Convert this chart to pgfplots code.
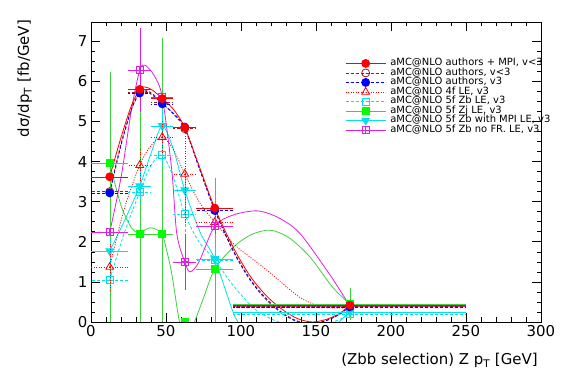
\documentclass[border=0pt]{standalone}
\usepackage{pgfplots}
\pgfplotsset{compat=1.18}
\usepackage{fontspec}
\setmainfont{DejaVu Sans}
\usetikzlibrary{plotmarks}
\definecolor{cR}{RGB}{255,0,0}
\definecolor{cDR}{RGB}{170,20,20}
\definecolor{cB}{RGB}{0,0,255}
\definecolor{cC}{RGB}{0,225,235}
\definecolor{cG}{RGB}{60,210,60}
\definecolor{cGf}{RGB}{0,255,0}
\definecolor{cM}{RGB}{225,30,225}
\pgfdeclareplotmark{boxplus}{%
  \pgfpathrectangle{\pgfpoint{-\pgfplotmarksize}{-\pgfplotmarksize}}{\pgfpoint{2\pgfplotmarksize}{2\pgfplotmarksize}}%
  \pgfpathmoveto{\pgfpoint{-\pgfplotmarksize}{0pt}}\pgfpathlineto{\pgfpoint{\pgfplotmarksize}{0pt}}%
  \pgfpathmoveto{\pgfpoint{0pt}{-\pgfplotmarksize}}\pgfpathlineto{\pgfpoint{0pt}{\pgfplotmarksize}}%
  \pgfusepathqstroke}
\pgfplotsset{
  errb/.style={error bars/x dir=both, error bars/x explicit, error bars/y dir=both, error bars/y explicit, error bars/error mark=none},
  sRed/.style={color=cR, solid, line width=0.8bp, mark=*, mark size=4bp, mark options={solid}},
  sDR/.style={color=cDR, dash pattern=on 3bp off 2bp, line width=0.8bp, mark=o, mark size=4bp, mark options={solid}},
  sBlue/.style={color=cB, dash pattern=on 3bp off 2bp, line width=0.8bp, mark=*, mark size=4bp, mark options={solid}},
  sTri/.style={color=cR, dash pattern=on 1bp off 1.5bp, line width=0.8bp, mark=triangle, mark size=4.5bp, mark options={solid}},
  sCSq/.style={color=cC, dash pattern=on 3bp off 2bp, line width=0.8bp, mark=square, mark size=3.5bp, mark options={solid}},
  sGreen/.style={color=cG, solid, line width=0.8bp, mark=square*, mark size=3.5bp, mark options={solid, draw=cGf, fill=cGf}},
  sCTri/.style={color=cC, solid, line width=0.8bp, mark=triangle*, mark size=4.5bp, mark options={solid, rotate=180}},
  sMag/.style={color=cM, solid, line width=0.8bp, mark=boxplus, mark size=3.5bp, mark options={solid}},
}
\begin{document}
\begin{tikzpicture}
\begin{axis}[
  scale only axis, width=450bp, height=300bp,
  xmin=0, xmax=300, ymin=0, ymax=7.48,
  xtick={0,50,...,300}, ytick={0,1,...,7},
  minor x tick num=4, minor y tick num=3,
  tick align=inside, tick pos=both,
  major tick length=9bp, minor tick length=4.5bp,
  tick style={black, line width=0.6bp},
  axis line style={line width=0.8bp},
  tick label style={font=\fontsize{15}{18}\selectfont},
  /pgf/number format/assume math mode=true,
  clip marker paths=true,
  xlabel={(Zbb selection) Z p\textsubscript{T} [GeV]},
  ylabel={dσ/dp\textsubscript{T} [fb/GeV]},
  label style={font=\fontsize{15}{18}\selectfont},
  xlabel style={at={(rel axis cs:0.993,-0.103)}, anchor=north east, inner sep=0pt},
  ylabel style={at={(rel axis cs:-0.147,1.007)}, anchor=east, inner sep=0pt},
  legend style={at={(rel axis cs:0.558,0.885)}, anchor=north west, draw=none, fill=none,
    font=\fontsize{10}{9.5}\selectfont,
    nodes={inner sep=0.25bp, text height=7bp, text depth=2bp},
    cells={anchor=west}, column sep=4bp, row sep=0pt},
  legend image code/.code={\draw[mark repeat=2,mark phase=2,#1] plot coordinates {(0bp,0bp)(20bp,0bp)(40bp,0bp)};},
]
\coordinate (O) at (rel axis cs:0,0);
\addlegendimage{sRed}\addlegendentry{aMC@NLO authors + MPI, v<3}
\addlegendimage{sDR}\addlegendentry{aMC@NLO authors, v<3}
\addlegendimage{sBlue}\addlegendentry{aMC@NLO authors, v3}
\addlegendimage{sTri}\addlegendentry{aMC@NLO 4f LE, v3}
\addlegendimage{sCSq}\addlegendentry{aMC@NLO 5f Zb LE, v3}
\addlegendimage{sGreen}\addlegendentry{aMC@NLO 5f Zj LE, v3}
\addlegendimage{sCTri}\addlegendentry{aMC@NLO 5f Zb with MPI LE, v3}
\addlegendimage{sMag}\addlegendentry{aMC@NLO 5f Zb no FR. LE, v3}

% ---- smooth curves ----
\addplot[sGreen, no marks, smooth, forget plot] coordinates {(12.5,3.96)(17,3.3)(21,2.8)(27,2.35)(32.5,2.19)(36,2.3)(40,2.35)(44,2.3)(47.5,2.19)(51,1.7)(54,1.17)(59,0.0)(62.5,-0.3)(66,-0.2)(69,0.0)(75,0.6)(82.5,1.32)(95,1.87)(107,2.18)(119.5,2.29)(132,2.1)(146,1.62)(161,0.87)(172.5,0.45)};
\addplot[sCSq, no marks, smooth, forget plot] coordinates {(12.5,1.05)(22,2.2)(32.5,3.24)(40,3.9)(47.5,4.16)(55,3.6)(62.5,2.69)(72,2.0)(82.5,1.55)(95,0.9)(110,0.3)(125,0.0)(140,-0.12)(155,-0.06)(165,0.05)(172.5,0.2)};
\addplot[sCTri, no marks, smooth, forget plot] coordinates {(12.5,1.77)(22,2.5)(32.5,3.39)(40,4.2)(47.5,4.89)(55,4.3)(62.5,3.29)(72.7,2.24)(82.5,1.57)(95,0.22)(101,-0.1)(115,-0.4)(135,-0.5)(155,-0.3)(172.5,0.25)};
\addplot[sTri, no marks, smooth, forget plot] coordinates {(12.5,1.37)(22,2.8)(32.5,3.91)(40,4.4)(47.5,4.61)(55,4.3)(62.5,3.69)(72,3.0)(82.5,2.49)(95,1.95)(106,1.62)(117,1.3)(128,0.95)(139,0.62)(150,0.42)(160,0.35)(172.5,0.36)};
\addplot[sMag, no marks, smooth, forget plot] coordinates {(12.5,2.24)(20,3.6)(27,5.3)(32.5,6.28)(36,6.4)(42,6.15)(47.5,5.61)(53.8,3.8)(57.2,2.2)(62.5,1.5)(66,1.25)(72,1.5)(82.5,2.39)(95,2.67)(111,2.77)(125,2.6)(139,2.22)(157,1.3)(165,0.85)(172.5,0.40)};
\addplot[sDR, no marks, smooth, forget plot] coordinates {(12.5,3.25)(20,4.45)(27,5.32)(32.5,5.74)(36,5.79)(41,5.69)(47.5,5.47)(55,5.18)(62.5,4.82)(72,3.86)(82.5,2.80)(95,1.78)(106,1.08)(117,0.58)(128,0.22)(138,0.02)(148,-0.04)(158,0.06)(166,0.2)(172.5,0.40)};
\addplot[sBlue, no marks, smooth, forget plot] coordinates {(12.5,3.22)(20,4.4)(27,5.3)(32.5,5.71)(36,5.76)(41,5.66)(47.5,5.44)(55,5.2)(62.5,4.86)(72,3.85)(82.5,2.78)(95,1.75)(106,1.05)(117,0.55)(128,0.2)(138,0.0)(148,-0.05)(158,0.05)(166,0.2)(172.5,0.38)};
\addplot[sRed, no marks, smooth, forget plot] coordinates {(12.5,3.62)(20,4.6)(27,5.4)(32.5,5.80)(36,5.86)(41,5.78)(47.5,5.57)(55,5.3)(62.5,4.85)(72,3.9)(82.5,2.84)(95,1.85)(106,1.15)(117,0.65)(128,0.3)(138,0.08)(148,0.0)(158,0.08)(166,0.22)(172.5,0.42)};

% ---- points with error bars ----
\addplot[sGreen, only marks, errb, forget plot] coordinates {
 (12.5,3.96) += (12.5,2.27) -= (12.5,3.96)
 (32.5,2.19) += (7.5,3.6) -= (7.5,2.19)
 (47.5,2.19) += (7.5,4.9) -= (7.5,2.19)
 (62.5,0.0) +- (7.5,0.0)
 (82.5,1.32) +- (12.5,2.27)
 (172.5,0.45) +- (77.5,0.4)};
\addplot[sCSq, only marks, errb, forget plot] coordinates {
 (12.5,1.05) +- (12.5,0.25) (32.5,3.24) +- (7.5,0.3) (47.5,4.16) +- (7.5,0.3)
 (62.5,2.69) +- (7.5,0.5) (82.5,1.55) +- (12.5,0.3) (172.5,0.20) +- (77.5,0.03)};
\addplot[sCTri, only marks, errb, forget plot] coordinates {
 (12.5,1.77) +- (12.5,0.3) (32.5,3.39) +- (7.5,0.35) (47.5,4.89) +- (7.5,0.4)
 (62.5,3.29) +- (7.5,0.5) (82.5,1.57) +- (12.5,0.3) (172.5,0.25) +- (77.5,0.03)};
\addplot[sTri, only marks, errb, forget plot] coordinates {
 (12.5,1.37) +- (12.5,0.6) (32.5,3.91) +- (7.5,0.4) (47.5,4.61) +- (7.5,0.4)
 (62.5,3.69) +- (7.5,1.2) (82.5,2.49) +- (12.5,0.3) (172.5,0.36) +- (77.5,0.05)};
\addplot[sMag, only marks, errb, forget plot] coordinates {
 (12.5,2.24) +- (12.5,0.1) (32.5,6.28) +- (7.5,1.05) (47.5,5.61) +- (7.5,0.1)
 (62.5,1.50) +- (7.5,0.7) (82.5,2.39) +- (12.5,0.2) (172.5,0.40) +- (77.5,0.03)};
\addplot[sDR, only marks, errb, forget plot] coordinates {
 (12.5,3.25) +- (12.5,0.05) (32.5,5.74) +- (7.5,0.05) (47.5,5.47) +- (7.5,0.05)
 (62.5,4.82) +- (7.5,0.05) (82.5,2.80) +- (12.5,0.05) (172.5,0.40) +- (77.5,0.02)};
\addplot[sBlue, only marks, errb, forget plot] coordinates {
 (12.5,3.22) +- (12.5,0.05) (32.5,5.71) +- (7.5,0.05) (47.5,5.44) +- (7.5,0.05)
 (62.5,4.86) +- (7.5,0.05) (82.5,2.78) +- (12.5,0.05) (172.5,0.38) +- (77.5,0.02)};
\addplot[sRed, only marks, errb, forget plot] coordinates {
 (12.5,3.62) +- (12.5,0.05) (32.5,5.80) +- (7.5,0.05) (47.5,5.57) +- (7.5,0.05)
 (62.5,4.85) +- (7.5,0.05) (82.5,2.84) +- (12.5,0.05) (172.5,0.42) +- (77.5,0.02)};
\end{axis}
\pgfresetboundingbox
\path[use as bounding box] (O) ++(-91bp,-62bp) rectangle ++(567bp,384bp);
\end{tikzpicture}
\end{document}
